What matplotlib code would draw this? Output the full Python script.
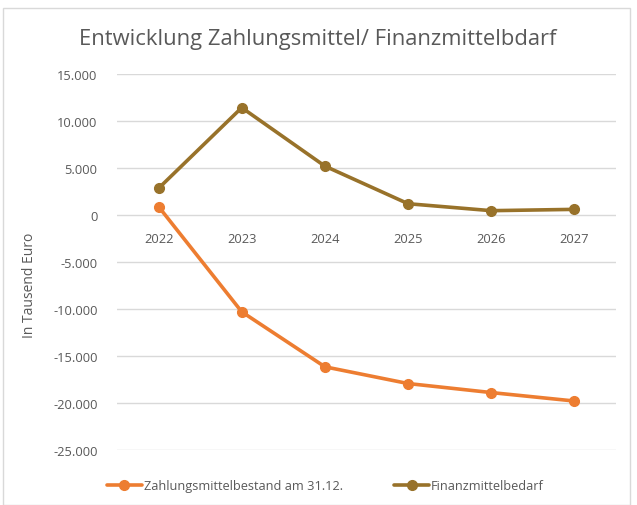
import matplotlib
matplotlib.use("Agg")
import matplotlib.pyplot as plt
from matplotlib.patches import Rectangle

years = ["2022", "2023", "2024", "2025", "2026", "2027"]
zahlungsmittel = [890, -10300, -16150, -17930, -18890, -19790]
finanzmittel = [2840, 11420, 5200, 1200, 460, 600]
yticks = [15000, 10000, 5000, 0, -5000, -10000, -15000, -20000, -25000]

def fmt(v):
    return f"{v:,}".replace(",", ".")

plt.rcParams['font.family'] = ['Open Sans', 'DejaVu Sans']
grey = '#595959'

fig = plt.figure(figsize=(6.37, 5.06), dpi=100)
ax = fig.add_axes([117/637, 55/506, 499/637, 376/506])

x = list(range(len(years)))
ax.plot(x, zahlungsmittel, color='#ED7D31', lw=2.6, marker='o', ms=7,
        label='Zahlungsmittelbestand am 31.12.', solid_capstyle='round')
ax.plot(x, finanzmittel, color='#98722A', lw=2.6, marker='o', ms=7,
        label='Finanzmittelbedarf', solid_capstyle='round')

ax.set_xlim(-0.5, len(years) - 0.5)
ax.set_ylim(-25000, 15000)
ax.set_yticks(yticks)
ax.set_yticklabels([fmt(v) for v in yticks])
ax.set_xticks(x)
ax.set_xticklabels(years)
ax.grid(axis='y', color='#d9d9d9', lw=1)
ax.set_axisbelow(True)
for s in ax.spines.values():
    s.set_visible(False)
ax.spines['bottom'].set_position(('data', 0))
ax.tick_params(axis='both', length=0, colors=grey, labelsize=9.3)
ax.tick_params(axis='x', pad=12)
ax.tick_params(axis='y', pad=14)

ax.set_ylabel('In Tausend Euro', color=grey, fontsize=10)
ax.yaxis.set_label_coords(-0.16, 0.441)
fig.text(318/637, 1 - 40/506, 'Entwicklung Zahlungsmittel/ Finanzmittelbdarf',
         ha='center', va='center', fontsize=15.8, color=grey)

leg = fig.legend(loc='center', bbox_to_anchor=(325/637, 1 - 487/506), ncol=2,
                 frameon=False, fontsize=9.2, handlelength=2.8, handletextpad=0.1,
                 columnspacing=4.0)
for t in leg.get_texts():
    t.set_color(grey)

fig.patches.append(Rectangle((3/637, 0), 627/637, 1 - 9/506, transform=fig.transFigure,
                             fill=False, edgecolor='#d9d9d9', lw=1))

fig.savefig('out.png', dpi=100)
